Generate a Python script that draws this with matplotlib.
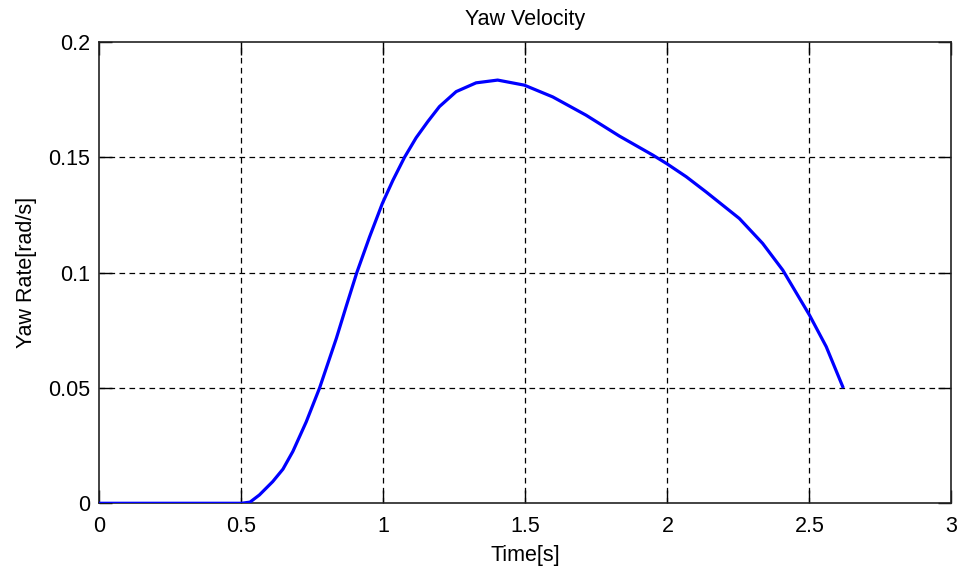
import matplotlib
matplotlib.use("Agg")
import matplotlib.pyplot as plt

# Yaw rate response over time
time_s = [0.0, 0.5, 0.53, 0.563, 0.61, 0.646, 0.681, 0.728, 0.775, 0.834,
          0.869, 0.906, 0.951, 0.996, 1.033, 1.074, 1.115, 1.156, 1.197,
          1.256, 1.326, 1.402, 1.496, 1.596, 1.713, 1.831, 1.948, 1.997,
          2.066, 2.136, 2.253, 2.335, 2.406, 2.5, 2.559, 2.617]
yaw_rate = [0.0, 0.0, 0.0005, 0.0036, 0.0094, 0.0148, 0.0225, 0.0353, 0.05,
            0.0715, 0.0855, 0.1, 0.1155, 0.130, 0.140, 0.150, 0.1585,
            0.1655, 0.172, 0.1785, 0.1823, 0.1835, 0.1813, 0.1762, 0.1683,
            0.1592, 0.1510, 0.1473, 0.1416, 0.1350, 0.1235, 0.1127, 0.1011,
            0.0816, 0.0679, 0.0506]

x_ticks = [0, 0.5, 1, 1.5, 2, 2.5, 3]
x_tick_labels = ["0", "0.5", "1", "1.5", "2", "2.5", "3"]
y_ticks = [0, 0.05, 0.1, 0.15, 0.2]
y_tick_labels = ["0", "0.05", "0.1", "0.15", "0.2"]

plt.rcParams["font.family"] = ["Liberation Sans", "DejaVu Sans"]
fs = 15.5

fig = plt.figure(figsize=(9.64, 5.71), dpi=100)
ax = fig.add_axes([0.1032, 0.1186, 0.8838, 0.8078])

ax.plot(time_s, yaw_rate, color=(0, 0, 1), lw=2.3, solid_joinstyle="round",
        zorder=3)

ax.set_xlim(0, 3)
ax.set_ylim(0, 0.2)
ax.set_xticks(x_ticks)
ax.set_xticklabels(x_tick_labels)
ax.set_yticks(y_ticks)
ax.set_yticklabels(y_tick_labels)

ax.grid(True, color="black", linestyle=(0, (4.5, 3.5)), lw=0.9)
# keep the frame solid: no dashed gridlines on the box edges
for lines in (ax.xaxis.get_gridlines(), ax.yaxis.get_gridlines()):
    lines[0].set_visible(False)
    lines[-1].set_visible(False)

ax.tick_params(direction="in", length=9.5, width=1.0, top=True, right=True,
               labelsize=fs, colors="black")
ax.tick_params(axis="x", pad=9)
ax.tick_params(axis="y", pad=7)
for sp in ax.spines.values():
    sp.set_linewidth(1.2)
    sp.set_color("#222222")
    sp.set_zorder(2.6)

ax.set_title("Yaw Velocity", fontsize=fs, pad=12)
ax.set_xlabel("Time[s]", fontsize=fs, labelpad=6)
ax.set_ylabel("Yaw Rate[rad/s]", fontsize=fs, labelpad=8)

fig.savefig("out.png", dpi=100)
